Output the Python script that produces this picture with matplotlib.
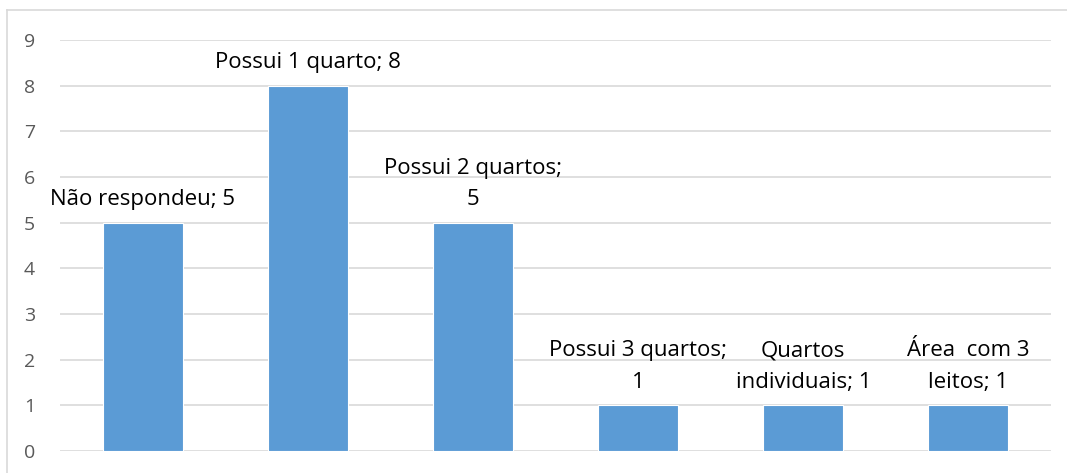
import matplotlib
matplotlib.use("Agg")
import matplotlib.pyplot as plt
from matplotlib.lines import Line2D

categories = ["Não respondeu", "Possui 1 quarto", "Possui 2 quartos", "Possui 3 quartos",
              "Quartos individuais", "Área  com 3 leitos"]
values = [5, 8, 5, 1, 1, 1]
labels = ["Não respondeu; 5", "Possui 1 quarto; 8", "Possui 2 quartos;\n5",
          "Possui 3 quartos;\n1", "Quartos\nindividuais; 1", "Área  com 3\nleitos; 1"]
yticks = list(range(0, 10))

plt.rcParams['font.family'] = ['Open Sans', 'DejaVu Sans']

fig = plt.figure(figsize=(10.67, 4.73), dpi=100)
ax = fig.add_axes([60/1067, 22/473, (1051-60)/1067, (451-40)/473])

x = list(range(len(categories)))
ax.bar(x, values, width=0.485, color="#5b9bd5", edgecolor="white", linewidth=0.8, zorder=3)
for xi, v, lab in zip(x, values, labels):
    ax.annotate(lab, (xi, v), xytext=(0, 9), textcoords="offset points",
                ha="center", va="bottom", fontsize=16, color="black",
                linespacing=1.65, zorder=4)

ax.set_xlim(-0.5, len(categories) - 0.5)
ax.set_ylim(0, 9)
ax.set_yticks(yticks)
ax.set_xticks([])
ax.tick_params(axis='y', length=0, pad=18, labelsize=14, labelcolor="#595959")
ax.grid(axis='y', color="#d9d9d9", linewidth=1.2, zorder=0)
for s in ax.spines.values():
    s.set_visible(False)

# outer chart border (top and left visible)
fig.add_artist(Line2D([7/1067, 1.0], [1 - 10/473, 1 - 10/473], transform=fig.transFigure,
                      color="#d9d9d9", linewidth=1.2))
fig.add_artist(Line2D([7/1067, 7/1067], [0, 1 - 10/473], transform=fig.transFigure,
                      color="#d9d9d9", linewidth=1.2))

fig.savefig("out.png", dpi=100)
